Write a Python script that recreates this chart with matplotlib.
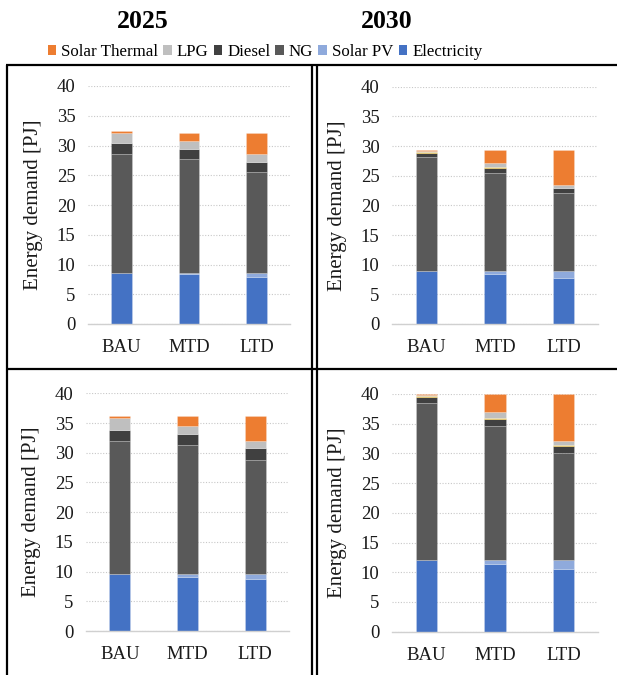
import matplotlib
matplotlib.use("Agg")
import matplotlib.pyplot as plt
from matplotlib.patches import Patch
from matplotlib.lines import Line2D
import numpy as np

plt.rcParams['font.family'] = ['Liberation Serif', 'DejaVu Serif']

scenarios = ["BAU", "MTD", "LTD"]
series = ["Electricity", "Solar PV", "NG", "Diesel", "Other", "LPG", "Solar Thermal"]
colors = {"Electricity": "#4472C4", "Solar PV": "#8FAADC", "NG": "#595959",
          "Diesel": "#404040", "Other": "#FFC000", "LPG": "#BFBFBF",
          "Solar Thermal": "#ED7D31"}

# panel: top-left (2025, upper)
tl_electricity = [8.63, 8.35, 7.96]
tl_solar_pv = [0.0, 0.28, 0.67]
tl_ng = [19.94, 19.16, 16.86]
tl_diesel = [1.91, 1.62, 1.79]
tl_other = [0.0, 0.0, 0.0]
tl_lpg = [1.68, 1.35, 1.24]
tl_solar_thermal = [0.28, 1.40, 3.64]

# panel: top-right (2030, upper)
tr_electricity = [8.93, 8.37, 7.81]
tr_solar_pv = [0.0, 0.56, 1.12]
tr_ng = [19.27, 16.57, 13.15]
tr_diesel = [0.68, 0.74, 0.79]
tr_other = [0.15, 0.22, 0.11]
tr_lpg = [0.15, 0.62, 0.50]
tr_solar_thermal = [0.15, 2.25, 5.85]

# panel: bottom-left (2025, lower)
bl_electricity = [9.65, 9.14, 8.80]
bl_solar_pv = [0.0, 0.51, 0.85]
bl_ng = [22.35, 21.65, 19.13]
bl_diesel = [1.80, 1.80, 1.96]
bl_other = [0.0, 0.0, 0.0]
bl_lpg = [2.10, 1.40, 1.24]
bl_solar_thermal = [0.20, 1.69, 4.21]

# panel: bottom-right (2030, lower)
br_electricity = [12.06, 11.44, 10.60]
br_solar_pv = [0.0, 0.62, 1.46]
br_ng = [26.37, 22.61, 18.01]
br_diesel = [1.12, 1.18, 1.23]
br_other = [0.10, 0.11, 0.12]
br_lpg = [0.18, 1.01, 0.67]
br_solar_thermal = [0.17, 3.03, 7.91]

panels = [
    ([tl_electricity, tl_solar_pv, tl_ng, tl_diesel, tl_other, tl_lpg, tl_solar_thermal], (88, 290, 86, 324)),
    ([tr_electricity, tr_solar_pv, tr_ng, tr_diesel, tr_other, tr_lpg, tr_solar_thermal], (392, 598, 86.7, 324)),
    ([bl_electricity, bl_solar_pv, bl_ng, bl_diesel, bl_other, bl_lpg, bl_solar_thermal], (86, 289, 393.3, 631)),
    ([br_electricity, br_solar_pv, br_ng, br_diesel, br_other, br_lpg, br_solar_thermal], (392, 598, 394, 631.7)),
]

W, H = 617, 675
fig = plt.figure(figsize=(W / 100, H / 100), dpi=100)

for data, (x0, x1, ytop, ybot) in panels:
    ax = fig.add_axes([x0 / W, 1 - ybot / H, (x1 - x0) / W, (ybot - ytop) / H])
    x = np.arange(len(scenarios))
    bottom = np.zeros(len(scenarios))
    for name, vals in zip(series, data):
        vals = np.array(vals)
        ax.bar(x, vals, width=0.31, bottom=bottom, color=colors[name],
               edgecolor=(1, 1, 1, 0.35), linewidth=0.4, zorder=3)
        bottom += vals
    ax.set_xlim(-0.5, 2.5)
    ax.set_ylim(0, 40)
    ax.set_yticks(np.arange(0, 41, 5))
    ax.set_xticks(x)
    ax.set_xticklabels(scenarios)
    ax.yaxis.grid(True, linestyle=(0, (1, 1.5)), color="#C8C8C8", linewidth=0.8, zorder=0)
    for s in ["top", "right", "left"]:
        ax.spines[s].set_visible(False)
    ax.spines["bottom"].set_color("#D0D0D0")
    ax.spines["bottom"].set_linewidth(1.0)
    ax.spines["bottom"].set_zorder(4)
    ax.tick_params(axis="both", length=0, labelsize=13.5, colors="#1a1a1a")
    ax.tick_params(axis="y", pad=9)
    ax.tick_params(axis="x", pad=11)
    ax.set_ylabel("Energy demand [PJ]", fontsize=15, color="#1a1a1a")
    ax.yaxis.set_label_coords(-45 / (x1 - x0), 0.5)

# titles
fig.text(142.5 / W, 1 - 21 / H, "2025", ha="center", va="center", fontsize=18.5, fontweight="bold")
fig.text(387 / W, 1 - 21 / H, "2030", ha="center", va="center", fontsize=18.5, fontweight="bold")

# legend
leg_names = ["Solar Thermal", "LPG", "Diesel", "NG", "Solar PV", "Electricity"]
handles = [Patch(facecolor=colors[n], edgecolor="none") for n in leg_names]
fig.legend(handles, leg_names, loc="center", bbox_to_anchor=(265 / W, 1 - 52 / H),
           ncol=6, frameon=False, fontsize=12.2, handlelength=0.5, handleheight=0.5,
           handletextpad=0.3, columnspacing=0.3, borderpad=0)

# frame lines
lw = 1.6
def fline(xs, ys):
    fig.add_artist(Line2D([v / W for v in xs], [1 - v / H for v in ys],
                          color="black", linewidth=lw, solid_capstyle="butt"))

fline([7, 7], [65, 675])
fline([6, 617], [65, 65])
fline([6, 617], [369, 369])
fline([312, 312], [65, 675])
fline([316.5, 316.5], [65, 675])

fig.savefig("out.png", dpi=100)
